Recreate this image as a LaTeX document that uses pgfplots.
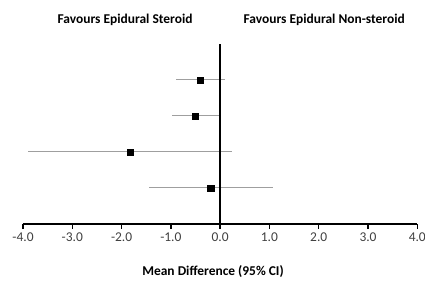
\documentclass[border=0pt]{standalone}
\usepackage{pgfplots}
\pgfplotsset{compat=1.18}
\usepackage{pgfplotstable}
\usepackage{fontspec}
\setmainfont{Carlito}
\pgfplotstableread{
y  md     lo    hi
4  -0.41  0.49  0.50
3  -0.51  0.46  0.48
2  -1.82  2.08  2.06
1  -0.19  1.25  1.26
}\datatab
\begin{document}
\begin{tikzpicture}[x=1bp,y=1bp]
\path[use as bounding box] (0,0) rectangle (425,288);
\begin{axis}[
  at={(23bp,64bp)}, anchor=south west,
  scale only axis, width=394.3bp, height=180bp,
  xmin=-4, xmax=4, ymin=0, ymax=5,
  axis x line=bottom, axis y line=none,
  axis line style={-, black, line width=1.8bp},
  xtick={-4,-3,-2,-1,0,1,2,3,4},
  tick align=outside, major tick length=5bp,
  tick style={black, line width=1.5bp},
  xticklabel style={font=\fontsize{13.5}{15}\selectfont, text=black!75, yshift=-0.5bp},
  /pgf/number format/.cd, fixed, fixed zerofill, precision=1, assume math mode=true,
  /pgfplots/.cd,
  clip=false,
  xlabel={\textbf{Mean Difference (95\% CI)}},
  xlabel style={font=\fontsize{13.5}{15}\selectfont, at={(axis description cs:0.482,0)}, anchor=center, yshift=-48bp},
]
\addplot[only marks, mark=square*, mark size=3.2bp, black,
  error bars/.cd, x dir=both, x explicit, error mark=none,
  error bar style={gray!75, line width=1bp}]
  table[x=md, y=y, x error plus=hi, x error minus=lo] {\datatab};
\addplot[black, line width=1.6bp] coordinates {(0,0) (0,5)};
\node[font=\fontsize{13.5}{15}\selectfont\bfseries] at (axis cs:-1.93,5.67) {Favours Epidural Steroid};
\node[font=\fontsize{13.5}{15}\selectfont\bfseries] at (axis cs:2.11,5.67) {Favours Epidural Non-steroid};
\end{axis}
\end{tikzpicture}
\end{document}
